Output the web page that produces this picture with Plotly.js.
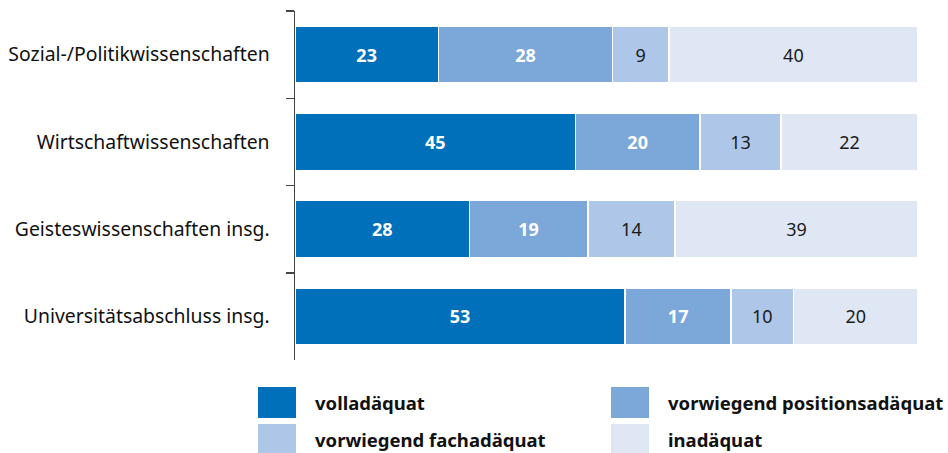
<!DOCTYPE html>
<html>
<head>
<meta charset="utf-8">
<script src="https://cdn.plot.ly/plotly-3.0.1.min.js"></script>
<style>html,body{margin:0;padding:0;background:#fff;}#chart{width:948px;height:453px;}</style>
</head>
<body>
<div id="chart"></div>
<script>
const categories = ["Sozial-/Politikwissenschaften", "Wirtschaftwissenschaften", "Geisteswissenschaften insg.", "Universitätsabschluss insg."];
const seriesNames = ["volladäquat", "vorwiegend positionsadäquat", "vorwiegend fachadäquat", "inadäquat"];
const volladaequat = [23, 45, 28, 53];
const positionsadaequat = [28, 20, 19, 17];
const fachadaequat = [9, 13, 14, 10];
const inadaequat = [40, 22, 39, 20];

const colors = ["#0070BA", "#7BA7D9", "#AEC6E7", "#DFE7F4"];
const textColors = ["#ffffff", "#ffffff", "#1a1a1a", "#1a1a1a"];
const textWeights = ["bold", "bold", "normal", "normal"];
const values = [volladaequat, positionsadaequat, fachadaequat, inadaequat];
const FONT = "Noto Sans, sans-serif";

const traces = values.map((v, i) => ({
  type: "bar",
  orientation: "h",
  name: seriesNames[i],
  y: categories,
  x: v,
  text: v.map(String),
  textposition: "inside",
  insidetextanchor: "middle",
  textangle: 0,
  textfont: {family: FONT, size: 18, color: textColors[i], weight: textWeights[i]},
  marker: {color: colors[i], line: {color: "#ffffff", width: 1.5}},
  hoverinfo: "skip",
  showlegend: false
}));

// legend drawn as shapes + annotations (layout order: 2 columns)
const legendPos = [
  {x0: 258, y0: 387, tx: 313},
  {x0: 611, y0: 387, tx: 666},
  {x0: 258, y0: 424, tx: 313},
  {x0: 611, y0: 424, tx: 666}
];
const legendOrder = [0, 1, 2, 3];
const W = 948, H = 453;
const shapes = [], annotations = [];
legendOrder.forEach((si, k) => {
  const p = legendPos[k];
  shapes.push({type: "rect", xref: "paper", yref: "paper",
    x0: (p.x0 - 295) / 623, x1: (p.x0 + 38 - 295) / 623,
    y0: (360 - (p.y0 + 31)) / 349, y1: (360 - p.y0) / 349,
    fillcolor: colors[si], line: {width: 0}});
  annotations.push({xref: "paper", yref: "paper", showarrow: false,
    x: (p.tx - 295) / 623, y: (360 - (p.y0 + 15.5)) / 349,
    xanchor: "left", yanchor: "middle",
    text: seriesNames[si],
    font: {family: FONT, size: 18.5, color: "#111111", weight: "bold"}});
});

const layout = {
  width: W, height: H,
  margin: {l: 295, r: 30, t: 11, b: 93},
  barmode: "stack",
  bargap: 0.345,
  paper_bgcolor: "#ffffff",
  plot_bgcolor: "#ffffff",
  showlegend: false,
  xaxis: {range: [0, 100], visible: false, fixedrange: true},
  yaxis: {
    autorange: "reversed",
    type: "category",
    showline: true, linecolor: "#444444", linewidth: 1.5,
    ticks: "outside", ticklen: 8, tickwidth: 1.5, tickcolor: "#444444",
    tickson: "boundaries",
    ticklabelstandoff: 20,
    tickfont: {family: FONT, size: 19.4, color: "#111111"},
    showgrid: false, zeroline: false
  },
  shapes: shapes,
  annotations: annotations,
  font: {family: FONT}
};

Plotly.newPlot("chart", traces, layout, {displayModeBar: false, staticPlot: true});
</script>
</body>
</html>
